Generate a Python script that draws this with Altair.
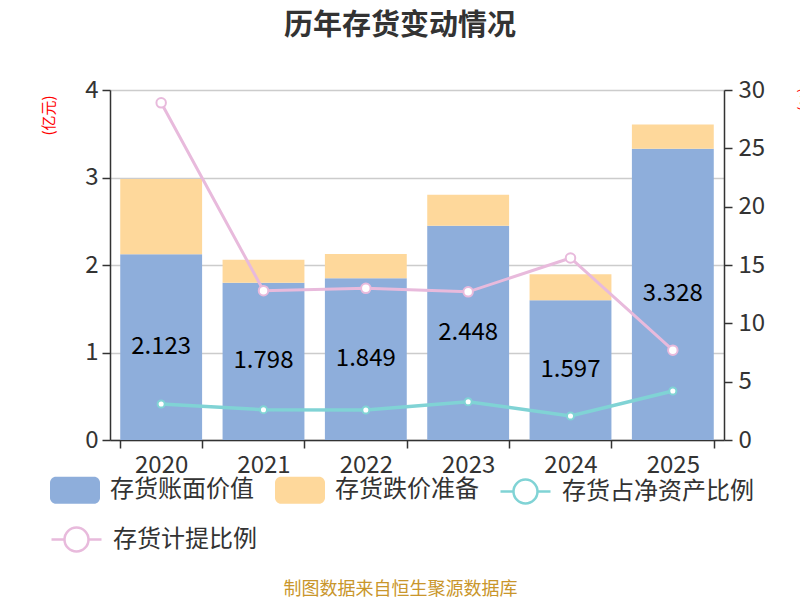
import altair as alt
import pandas as pd

years = ["2020", "2021", "2022", "2023", "2024", "2025"]
book_value = [2.123, 1.798, 1.849, 2.448, 1.597, 3.328]
impairment = [0.860, 0.262, 0.277, 0.355, 0.296, 0.279]
inv_to_net_assets = [3.09, 2.60, 2.57, 3.28, 2.06, 4.20]
provision_ratio = [28.9, 12.8, 13.0, 12.7, 15.6, 7.7]

series_bar = ["存货账面价值", "存货跌价准备"]
series_teal = "存货占净资产比例"
series_pink = "存货计提比例"

FONT = "Noto Sans CJK SC"
BLUE = "#8eaedb"
ORANGE = "#fed89b"
TEAL = "#80d3d5"
PINK = "#e8badc"
DARK = "#333333"

bar_df = pd.DataFrame({
    "year": years * 2,
    "series": [series_bar[0]] * len(years) + [series_bar[1]] * len(years),
    "value": book_value + impairment,
    "ord": [0] * len(years) + [1] * len(years),
})
label_df = pd.DataFrame({
    "year": years,
    "value": book_value,
    "label": [f"{v:.3f}" for v in book_value],
})
teal_df = pd.DataFrame({"year": years, "value": inv_to_net_assets, "series": series_teal})
pink_df = pd.DataFrame({"year": years, "value": provision_ratio, "series": series_pink})

RECT = ("M-0.76,-0.54 L0.76,-0.54 A0.24,0.24 0 0 1 1,-0.3 L1,0.3 "
        "A0.24,0.24 0 0 1 0.76,0.54 L-0.76,0.54 A0.24,0.24 0 0 1 -1,0.3 "
        "L-1,-0.3 A0.24,0.24 0 0 1 -0.76,-0.54 Z")
LINE = ("M-1,0 L-0.48,0 M0.48,0 L1,0 M0.48,0 A0.48,0.48 0 1 1 -0.48,0 "
        "A0.48,0.48 0 1 1 0.48,0 Z")

x_enc = alt.X(
    "year:N", sort=years,
    scale=alt.Scale(paddingInner=0.2, paddingOuter=0.1),
    axis=alt.Axis(
        title="制图数据来自恒生聚源数据库", titleColor="#c9962b", titleFontSize=18,
        titleFontWeight="normal", titleFont=FONT, titleX=290, titleY=149,
        titleAlign="center", titleBaseline="middle",
        labelAngle=0, labelFontSize=24, labelFont=FONT, labelColor=DARK, labelPadding=5,
        tickBand="extent", tickSize=8, tickColor=DARK, tickWidth=1.5,
        domainColor=DARK, domainWidth=1.5, grid=False,
    ),
)

left_axis = alt.Axis(
    values=[0, 1, 2, 3, 4], title="(亿元)", titleColor="red", titleFontSize=15,
    titleFontWeight="normal", titleFont=FONT, titleX=-62, titleY=25,
    titleAlign="center", titleBaseline="middle",
    labelFontSize=24, labelFont=FONT, labelColor=DARK, labelPadding=4,
    tickSize=8, tickColor=DARK, tickWidth=1.5, domainColor=DARK, domainWidth=1.5,
    grid=True, gridColor="#cccccc", gridWidth=1.5,
)

right_axis = alt.Axis(
    orient="right", values=[0, 5, 10, 15, 20, 25, 30], title="(%)", titleColor="red",
    titleFontSize=15, titleFontWeight="normal", titleFont=FONT, titleX=80, titleY=-3,
    titleAngle=90, titleAlign="left", titleBaseline="middle",
    labelFontSize=24, labelFont=FONT, labelColor=DARK, labelPadding=6,
    tickSize=8, tickColor=DARK, tickWidth=1.5, domainColor=DARK, domainWidth=1.5,
    grid=False,
)

bars = alt.Chart(bar_df).mark_bar().encode(
    x=x_enc,
    y=alt.Y("value:Q", stack="zero", scale=alt.Scale(domain=[0, 4]), axis=left_axis),
    color=alt.Color(
        "series:N",
        scale=alt.Scale(domain=series_bar, range=[BLUE, ORANGE]),
        legend=alt.Legend(
            orient="none", legendX=-60, legendY=375, direction="horizontal", columns=2,
            columnPadding=21, symbolType=RECT, symbolSize=2500, symbolStrokeWidth=0,
            labelFontSize=24, labelFont=FONT, labelColor=DARK, labelOffset=10,
            labelLimit=0, title=None, padding=0,
        ),
    ),
    order=alt.Order("ord:Q"),
)

labels = alt.Chart(label_df).transform_calculate(
    mid="datum.value / 2"
).mark_text(fontSize=24, font=FONT, color="black").encode(
    x=x_enc,
    y=alt.Y("mid:Q", scale=alt.Scale(domain=[0, 4]), axis=left_axis),
    text="label:N",
)


def line_layer(df, color, series, lx, ly, size, width, axis):
    return alt.Chart(df).mark_line(
        strokeWidth=width,
        point=alt.OverlayMarkDef(filled=False, fill="white", size=size, strokeWidth=2),
    ).encode(
        x=x_enc,
        y=alt.Y("value:Q", scale=alt.Scale(domain=[0, 30]), axis=axis),
        color=alt.Color(
            "series:N",
            scale=alt.Scale(domain=[series], range=[color]),
            legend=alt.Legend(
                orient="none", legendX=lx, legendY=ly, symbolType=LINE, symbolSize=2500,
                symbolStrokeWidth=2.5, symbolFillColor="white",
                labelFontSize=24, labelFont=FONT, labelColor=DARK, labelOffset=10,
                labelLimit=0, title=None, padding=0,
            ),
        ),
    )


teal = line_layer(teal_df, TEAL, series_teal, 389, 375, 50, 3.5, right_axis)
pink = line_layer(pink_df, PINK, series_pink, -60, 423, 90, 3, right_axis)

lines = alt.layer(teal, pink).resolve_scale(color="independent")
left = alt.layer(bars, labels)

chart = alt.layer(left, lines).resolve_scale(
    y="independent", color="independent"
).properties(
    width=614, height=350,
    autosize="none",
    padding={"left": 110, "top": 90, "right": 76, "bottom": 160},
    title=alt.Title(
        "历年存货变动情况", fontSize=29, fontWeight="bold", color=DARK, font=FONT,
        anchor="middle", dx=-17, offset=37,
    ),
).configure_view(stroke=None).configure(background="white")

chart.save("out.html", embed_options={"renderer": "svg", "actions": False})
